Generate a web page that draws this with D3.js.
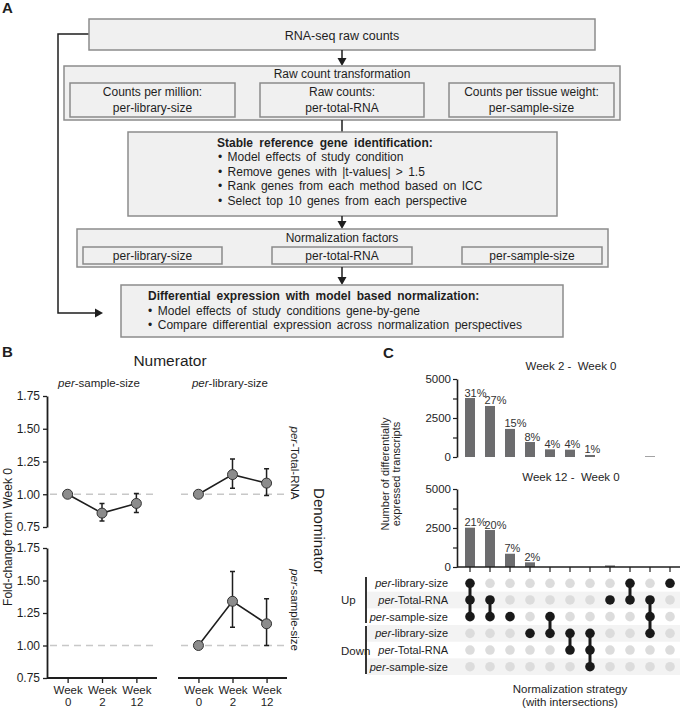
<!DOCTYPE html>
<html><head><meta charset="utf-8">
<script src="https://cdn.jsdelivr.net/npm/d3@7/dist/d3.min.js"></script>
<style>
body{margin:0;background:#fff;}
svg{font-family:"Liberation Sans", Arial, sans-serif;}
</style></head><body>
<svg id="c" width="685" height="709"></svg>
<script>
// ---------- DATA ----------
// Panel A flowchart text
const rawTitle = "RNA-seq raw counts";
const transformTitle = "Raw count transformation";
const transformBoxes = [["Counts per million:", "per-library-size"], ["Raw counts:", "per-total-RNA"], ["Counts per tissue weight:", "per-sample-size"]];
const refTitle = "Stable reference gene identification:";
const refBullets = ["Model effects of study condition", "Remove genes with |t-values|  > 1.5", "Rank genes from each method based on ICC", "Select top 10 genes from each perspective"];
const normTitle = "Normalization factors";
const normFactors = ["per-library-size", "per-total-RNA", "per-sample-size"];
const deTitle = "Differential expression with model based normalization:";
const deBullets = ["Model effects of study conditions gene-by-gene", "Compare differential expression across normalization perspectives"];

// Panel B
const weeks = ["0", "2", "12"];
const numeratorLabels = ["sample-size", "library-size"];
const denominatorLabels = ["Total-RNA", "sample-size"];
const foldTicks = [0.75, 1.00, 1.25, 1.50, 1.75];
const fcSampleOverTotal = [1.00, 0.856, 0.93];
const fcSampleOverTotalLo = [null, 0.795, 0.86];
const fcSampleOverTotalHi = [null, 0.93, 1.005];
const fcLibraryOverTotal = [1.00, 1.15, 1.085];
const fcLibraryOverTotalLo = [null, 1.045, 0.99];
const fcLibraryOverTotalHi = [null, 1.27, 1.195];
const fcSampleOverSample = [];
const fcSampleOverSampleLo = [];
const fcSampleOverSampleHi = [];
const fcLibraryOverSample = [1.00, 1.34, 1.167];
const fcLibraryOverSampleLo = [null, 1.14, 1.00];
const fcLibraryOverSampleHi = [null, 1.57, 1.36];

// Panel C
const countTicks = [0, 1250, 2500, 3750, 5000];
const week2Counts = [3780, 3270, 1800, 960, 490, 470, 130, 0, 0, 40, 0];
const week2Pct = ["31%", "27%", "15%", "8%", "4%", "4%", "1%", "", "", "", ""];
const week12Counts = [2520, 2370, 850, 300, 0, 0, 0, 100, 0, 0, 0];
const week12Pct = ["21%", "20%", "7%", "2%", "", "", "", "", "", "", ""];
const setNames = ["library-size", "Total-RNA", "sample-size", "library-size", "Total-RNA", "sample-size"];
const setDirections = ["Up", "Down"];
const intersections = [[0, 1, 2], [1, 2], [2], [3], [2, 3], [3, 4], [3, 4, 5], [1], [0, 1], [1, 2, 3], [0]];

// ---------- DRAW ----------
const svg = d3.select("#c");
const ink = "#1e1e1e";

function label(x, y, str, o = {}) {
  const t = svg.append("text").attr("x", x).attr("y", y).text(str)
    .attr("font-size", o.size || 12).attr("fill", ink)
    .attr("text-anchor", o.anchor || "middle");
  if (o.bold) t.attr("font-weight", "bold");
  if (o.ws) t.attr("word-spacing", o.ws);
  return t;
}
function box(x0, y0, x1, y1, stroke) {
  svg.append("rect").attr("x", x0).attr("y", y0).attr("width", x1 - x0).attr("height", y1 - y0)
    .attr("fill", "#f0f0f0").attr("stroke", stroke || "#8c8c8c").attr("stroke-width", 1.5);
}
function arrowDown(x, y0, y1, head = true) {
  svg.append("line").attr("x1", x).attr("x2", x).attr("y1", y0).attr("y2", head ? y1 - 5 : y1)
    .attr("stroke", ink).attr("stroke-width", 1.5);
  if (head) svg.append("path").attr("d", `M${x - 4.5},${y1 - 8}L${x + 4.5},${y1 - 8}L${x},${y1}Z`).attr("fill", ink);
}

// Panel letters
label(2, 13, "A", {size: 15, bold: true, anchor: "start"});
label(2, 357, "B", {size: 15, bold: true, anchor: "start"});
label(383, 358, "C", {size: 15, bold: true, anchor: "start"});

// --- Panel A ---
svg.append("path").attr("d", "M89,34H58V313H96").attr("fill", "none").attr("stroke", ink).attr("stroke-width", 1.5);
svg.append("path").attr("d", "M95,308.5L95,317.5L103,313Z").attr("fill", ink);

box(89, 19, 595, 50);
label(342, 40, rawTitle, {size: 12.5});
arrowDown(342, 50, 66);

box(64, 66, 620, 120);
label(342, 78, transformTitle);
const tbX = [[70, 235], [260, 424], [449, 614]];
transformBoxes.forEach((lines, i) => {
  box(tbX[i][0], 83, tbX[i][1], 117, "#8a8a8a");
  const cx = (tbX[i][0] + tbX[i][1]) / 2;
  label(cx, 96, lines[0]);
  label(cx, 112, lines[1]);
});
arrowDown(342, 120, 132, false);

box(128, 132, 557, 216);
label(217, 147, refTitle, {bold: true, anchor: "start", ws: 3});
refBullets.forEach((b, i) => label(218, 161 + i * 14.6, "\u2022 " + b, {anchor: "start", ws: 2}));
arrowDown(342, 216, 229);

box(77, 229, 608, 267);
label(342, 242, normTitle);
const nfX = [[83, 222], [272, 412], [462, 602]];
normFactors.forEach((n, i) => {
  box(nfX[i][0], 247, nfX[i][1], 264, "#8a8a8a");
  label((nfX[i][0] + nfX[i][1]) / 2, 260, n);
});
arrowDown(342, 267, 285);

box(121, 285, 563, 337);
label(148, 300, deTitle, {bold: true, anchor: "start", ws: 2.5});
deBullets.forEach((b, i) => label(148, 315 + i * 14.3, "\u2022 " + b, {anchor: "start", ws: 2.2}));

// --- Panel B ---
label(170, 366, "Numerator", {size: 15.5});
function italicPer(x, y, rest, size, anchor, rotate) {
  const t = svg.append("text").attr("x", x).attr("y", y).attr("font-size", size).attr("fill", ink)
    .attr("text-anchor", anchor);
  if (rotate) t.attr("transform", `rotate(${rotate},${x},${y})`);
  t.append("tspan").attr("font-style", "italic").text("per");
  t.append("tspan").text("-" + rest);
  return t;
}
const colX = [[47, 157], [178, 287]];
const rowY = [[527, 396], [678, 548]];
colX.forEach((c, i) => italicPer(i === 0 ? 99 : 230, 387, numeratorLabels[i], 11.5, "middle"));
italicPer(291, 463, denominatorLabels[0], 11.5, "middle", 90);
italicPer(291, 610, denominatorLabels[1], 11.5, "middle", 90);
svg.append("text").attr("x", 314).attr("y", 531).attr("font-size", 15).attr("fill", ink)
  .attr("text-anchor", "middle").attr("transform", "rotate(90,314,531)").text("Denominator");
svg.append("text").attr("x", 12).attr("y", 537).attr("font-size", 12).attr("fill", ink)
  .attr("text-anchor", "middle").attr("transform", "rotate(-90,12,537)").text("Fold-change from Week 0");

const panelsB = [
  {c: 0, r: 0, m: fcSampleOverTotal, lo: fcSampleOverTotalLo, hi: fcSampleOverTotalHi},
  {c: 1, r: 0, m: fcLibraryOverTotal, lo: fcLibraryOverTotalLo, hi: fcLibraryOverTotalHi},
  {c: 0, r: 1, m: fcSampleOverSample, lo: fcSampleOverSampleLo, hi: fcSampleOverSampleHi},
  {c: 1, r: 1, m: fcLibraryOverSample, lo: fcLibraryOverSampleLo, hi: fcLibraryOverSampleHi}
];
panelsB.forEach(p => {
  const x = d3.scalePoint().domain(weeks).range(colX[p.c]).padding(0.6);
  const y = d3.scaleLinear().domain([0.75, 1.75]).range(rowY[p.r]);
  const g = svg.append("g");
  g.append("line").attr("x1", colX[p.c][0] + 3).attr("x2", colX[p.c][1] - 2)
    .attr("y1", y(1)).attr("y2", y(1)).attr("stroke", "#c8c8c8").attr("stroke-width", 1.5)
    .attr("stroke-dasharray", "7,5");
  if (p.c === 0) {
    const ax = g.append("g").attr("transform", `translate(${colX[0][0]},0)`)
      .call(d3.axisLeft(y).tickValues(foldTicks).tickFormat(d3.format(".2f")).tickSize(4).tickSizeOuter(0).tickPadding(3));
    ax.select(".domain").attr("stroke", ink).attr("stroke-width", 1.8);
    ax.selectAll(".tick line").attr("stroke", ink).attr("stroke-width", 1.3);
    ax.selectAll("text").attr("font-size", 12).attr("fill", ink).attr("font-family", null);
  }
  if (p.r === 1) {
    const ax = g.append("g").attr("transform", `translate(0,${rowY[1][0]})`)
      .call(d3.axisBottom(x).tickSize(5).tickSizeOuter(0).tickFormat(""));
    ax.select(".domain").attr("d", `M${colX[p.c][0]},0H${colX[p.c][1]}`).attr("stroke", ink).attr("stroke-width", 1.8);
    ax.selectAll(".tick line").attr("stroke", ink).attr("stroke-width", 1.3);
    ax.selectAll(".tick").each(function(d) {
      d3.select(this).append("text").attr("fill", ink).attr("font-size", 11.5).attr("text-anchor", "middle")
        .attr("x", 0).attr("y", 15.5).text("Week");
      d3.select(this).append("text").attr("fill", ink).attr("font-size", 11.5).attr("text-anchor", "middle")
        .attr("x", 0).attr("y", 27.5).text(d);
    });
  }
  const pts = p.m.map((v, i) => ({w: weeks[i], v, lo: p.lo[i], hi: p.hi[i]}));
  g.append("path").datum(pts).attr("fill", "none").attr("stroke", ink).attr("stroke-width", 1.6)
    .attr("d", d3.line().x(d => x(d.w)).y(d => y(d.v)));
  pts.filter(d => d.lo != null).forEach(d => {
    const cx = x(d.w);
    g.append("path").attr("d", `M${cx},${y(d.lo)}V${y(d.hi)}M${cx - 2.5},${y(d.lo)}h5M${cx - 2.5},${y(d.hi)}h5`)
      .attr("stroke", ink).attr("stroke-width", 1.5).attr("fill", "none");
  });
  g.selectAll("circle").data(pts).join("circle").attr("cx", d => x(d.w)).attr("cy", d => y(d.v)).attr("r", 5)
    .attr("fill", "#8c8c8c").attr("stroke", "#333").attr("stroke-width", 1);
});

// --- Panel C ---
const xc = d3.scaleBand().domain(d3.range(intersections.length)).range([460, 680]).paddingInner(0.5).paddingOuter(0.25);
const barColor = "#6c6c6e";
function barChart(counts, pcts, y0, y1, title, titleY, xAxis) {
  const y = d3.scaleLinear().domain([0, 5000]).range([y0, y1]);
  label(571, titleY, title, {size: 11.5}).style("white-space", "pre");
  const ax = svg.append("g").attr("transform", "translate(457,0)")
    .call(d3.axisLeft(y).tickValues(countTicks).tickFormat(d => d % 2500 === 0 ? d : "").tickSize(4).tickSizeOuter(0).tickPadding(2));
  ax.select(".domain").attr("stroke", ink).attr("stroke-width", 1.6);
  ax.selectAll(".tick line").attr("stroke", ink).attr("stroke-width", 1.2);
  ax.selectAll("text").attr("font-size", 11.5).attr("fill", ink).attr("font-family", null);
  svg.append("g").selectAll("rect").data(counts).join("rect")
    .attr("x", (d, i) => xc(i)).attr("width", xc.bandwidth())
    .attr("y", d => y(d)).attr("height", d => y0 - y(d)).attr("fill", barColor);
  svg.append("g").selectAll("text").data(pcts).join("text")
    .attr("x", (d, i) => xc(i) - 0.5).attr("y", (d, i) => y(counts[i]) - 1.5)
    .attr("font-size", 11).attr("fill", "#333").text(d => d);
  if (xAxis) {
    svg.append("line").attr("x1", 457).attr("x2", 680).attr("y1", y0).attr("y2", y0).attr("stroke", ink).attr("stroke-width", 1.6);
    svg.append("g").selectAll("line").data(counts).join("line")
      .attr("x1", (d, i) => xc(i) + xc.bandwidth() / 2).attr("x2", (d, i) => xc(i) + xc.bandwidth() / 2)
      .attr("y1", y0).attr("y2", y0 + 5).attr("stroke", ink).attr("stroke-width", 1.2);
  }
}
barChart(week2Counts, week2Pct, 457, 379, "Week 2 -  Week 0", 370, false);
barChart(week12Counts, week12Pct, 567, 489, "Week 12 -  Week 0", 481, true);

svg.append("text").attr("font-size", 11).attr("fill", ink).attr("text-anchor", "middle")
  .attr("transform", "translate(389,474) rotate(-90)").text("Number of differentially");
svg.append("text").attr("font-size", 11).attr("fill", ink).attr("text-anchor", "middle")
  .attr("transform", "translate(400,474) rotate(-90)").text("expressed transcripts");

const ym = d3.scalePoint().domain(d3.range(setNames.length)).range([583.3, 666.7]);
const rowH = 16.7;
setNames.forEach((n, i) => {
  if (i % 2 === 1) svg.append("rect").attr("x", 367).attr("y", ym(i) - rowH / 2).attr("width", 313).attr("height", rowH).attr("fill", "#f3f3f3");
});
setNames.forEach((n, i) => italicPer(448, ym(i) + 4, n, 11, "end"));
label(341, 604, setDirections[0], {size: 11.5, anchor: "start"});
label(341, 655, setDirections[1], {size: 11.5, anchor: "start"});
svg.append("line").attr("x1", 366).attr("x2", 366).attr("y1", 577).attr("y2", 623).attr("stroke", ink).attr("stroke-width", 1.8);
svg.append("line").attr("x1", 366).attr("x2", 366).attr("y1", 626).attr("y2", 674).attr("stroke", ink).attr("stroke-width", 1.8);

intersections.forEach((members, c) => {
  const cx = xc(c) + xc.bandwidth() / 2;
  setNames.forEach((n, r) => {
    svg.append("circle").attr("cx", cx).attr("cy", ym(r)).attr("r", 4.8)
      .attr("fill", members.includes(r) ? "#1a1a1a" : "#dcdcdc");
  });
  if (members.length > 1) {
    svg.append("line").attr("x1", cx).attr("x2", cx).attr("y1", ym(d3.min(members))).attr("y2", ym(d3.max(members)))
      .attr("stroke", "#1a1a1a").attr("stroke-width", 3);
  }
});
label(570, 693, "Normalization strategy", {size: 11.5});
label(570, 706, "(with intersections)", {size: 11.5});
</script>
</body></html>
